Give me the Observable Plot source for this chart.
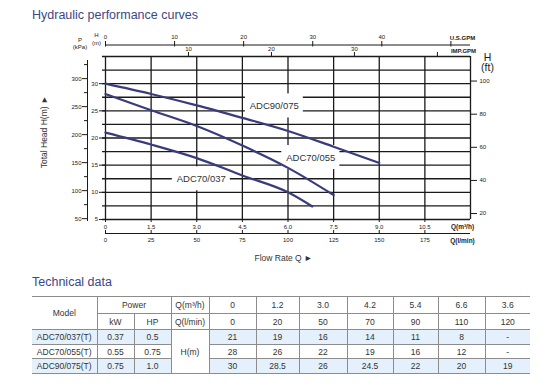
<!DOCTYPE html>
<html>
<head>
<meta charset="utf-8">
<script src="https://cdn.jsdelivr.net/npm/d3@7"></script>
<script src="https://cdn.jsdelivr.net/npm/@observablehq/plot@0.6"></script>
<style>
  html, body { margin: 0; padding: 0; background: #fff; }
  #page { position: relative; width: 550px; height: 392px; overflow: hidden; font-family: "Liberation Sans", Arial, sans-serif; }
  .heading { position: absolute; left: 32px; font-size: 12.5px; line-height: 15px; color: #3a4886; white-space: nowrap; }
  #chart { position: absolute; left: 0; top: 0; }
  #tech { position: absolute; left: 32px; top: 296px; border-collapse: collapse; table-layout: fixed; width: 498px; font-size: 8.5px; color: #333; }
  #tech td { border: 1px solid #8c8c8c; text-align: center; padding: 0; white-space: nowrap; }
  #tech tr td:first-child { border-left: none; }
  #tech tr td:last-child { border-right: none; }
  #tech tr.r2 td:first-child { border-left: 1px solid #8c8c8c; }
  #tech tr.blue td { background: #e4f0fb; }
  #tech tr.blue td.hm { background: #fff; }
</style>
</head>
<body>
<div id="page">
  <div class="heading" style="top:8px">Hydraulic performance curves</div>
  <div id="chart"></div>
  <div class="heading" style="top:275px">Technical data</div>
  <table id="tech"></table>
</div>
<script>
// ---------- curve data ----------
const q037 = [0, 1.5, 3.0, 4.5, 6.0, 6.8];
const h037 = [21.0, 18.8, 16.3, 13.1, 10.0, 7.4];
const q055 = [0, 1.5, 3.0, 4.5, 6.0, 7.5];
const h055 = [28.1, 25.1, 22.2, 18.6, 14.5, 9.5];
const q075 = [0, 1.5, 3.0, 4.5, 6.0, 7.5, 9.0];
const h075 = [30.0, 28.1, 26.0, 23.7, 21.3, 18.4, 15.4];

const labelNames = ["ADC90/075", "ADC70/055", "ADC70/037"];
const labelQ = [5.55, 6.75, 3.15];
const labelH = [25.9, 16.4, 12.5];

// ---------- axes / ticks ----------
const qGrid = [0, 1.5, 3.0, 4.5, 6.0, 7.5, 9.0, 10.5, 12];
const hGrid = [5, 7.5, 10, 12.5, 15, 17.5, 20, 22.5, 25, 27.5, 30, 32.5, 35];
const qM3hTicks = [0, 1.5, 3.0, 4.5, 6.0, 7.5, 9.0, 10.5];
const qM3hLabels = ["0", "1.5", "3.0", "4.5", "6.0", "7.5", "9.0", "10.5"];
const qLminTicks = [0, 25, 50, 75, 100, 125, 150, 175];
const usGpmTicks = [0, 10, 20, 30, 40, 50];
const usGpmLabels = [0, 10, 20, 30, 40];
const impGpmTicks = [10, 20, 30, 40];
const impGpmLabels = [10, 20, 30];
const hTicks = [5, 10, 15, 20, 25, 30];
const kPaMajor = [50, 100, 150, 200, 250, 300];
const kPaMinor = [75, 125, 175, 225, 275, 325];
const ftTicks = [20, 40, 60, 80, 100];

// ---------- table data ----------
const models = ["ADC70/037(T)", "ADC70/055(T)", "ADC90/075(T)"];
const kW = ["0.37", "0.55", "0.75"];
const hp = ["0.5", "0.75", "1.0"];
const tableQm3h = ["0", "1.2", "3.0", "4.2", "5.4", "6.6", "3.6"];
const tableQlmin = ["0", "20", "50", "70", "90", "110", "120"];
const tableH037 = ["21", "19", "16", "14", "11", "8", "-"];
const tableH055 = ["28", "26", "22", "19", "16", "12", "-"];
const tableH075 = ["30", "28.5", "26", "24.5", "22", "20", "19"];

// unit conversions
const M3H_PER_USGPM = 0.2271, M3H_PER_IMPGPM = 0.2728, M3H_PER_LMIN = 0.06;
const KPA_PER_M = 9.7, M_PER_FT = 0.3048;

// ---------- layout ----------
const W = 550, HH = 265, mL = 105, mR = 80, mT = 56, mB = 46;
const xDom = [0, 12], yDom = [5, 35];
const ux = (xDom[1] - xDom[0]) / (W - mL - mR);
const uy = (yDom[1] - yDom[0]) / (HH - mT - mB);
const pxX = px => xDom[0] + (px - mL) * ux;
const pxY = py => yDom[0] + (HH - mB - py) * uy;

const curveRows = [
  ...q037.map((q, i) => ({model: "ADC70/037", q, h: h037[i]})),
  ...q055.map((q, i) => ({model: "ADC70/055", q, h: h055[i]})),
  ...q075.map((q, i) => ({model: "ADC90/075", q, h: h075[i]}))
];
const labelRows = labelNames.map((name, i) => ({name, q: labelQ[i], h: labelH[i]}));

const ink = "#1a1a1a", txt = "#333";
const gw = 1.3;
const fs = 6;

const chart = Plot.plot({
  width: W, height: HH,
  marginLeft: mL, marginRight: mR, marginTop: mT, marginBottom: mB,
  x: {domain: xDom, axis: null},
  y: {domain: yDom, axis: null},
  style: {fontFamily: "'Liberation Sans', Arial, sans-serif", background: "transparent", overflow: "visible", color: txt},
  marks: [
    // grid
    Plot.ruleX(qGrid, {y1: yDom[0], y2: yDom[1], stroke: ink, strokeWidth: gw}),
    Plot.ruleY(hGrid, {x1: pxX(102), x2: xDom[1], stroke: ink, strokeWidth: gw}),
    // label boxes
    Plot.rect(labelRows, {x1: d => d.q - 29 * ux, x2: d => d.q + 29 * ux, y1: d => d.h - 12 * uy, y2: d => d.h + 12 * uy, fill: "white"}),
    // curves
    Plot.line(curveRows, {x: "q", y: "h", z: "model", stroke: "#383c7c", strokeWidth: 2.2, curve: "monotone-x"}),
    Plot.text(labelRows, {x: "q", y: "h", text: "name", fontSize: 9.5, fill: txt}),

    // left H(m) axis
    Plot.ruleY(hTicks, {x1: pxX(99), x2: 0, stroke: ink, strokeWidth: 1}),
    Plot.text(hTicks, {x: pxX(97.5), y: d => d, text: d => String(d), textAnchor: "end", fontSize: fs, fill: ink}),
    Plot.text(["H\n(m)"], {x: pxX(96), y: pxY(38), text: d => d, fontSize: fs, fill: ink, lineHeight: 1.25}),

    // kPa axis
    Plot.ruleX([pxX(87)], {y1: pxY(221), y2: pxY(60), stroke: ink, strokeWidth: 1}),
    Plot.ruleY(kPaMajor, {y: p => p / KPA_PER_M, x1: pxX(82), x2: pxX(87), stroke: ink, strokeWidth: 1}),
    Plot.ruleY(kPaMinor, {y: p => p / KPA_PER_M, x1: pxX(84), x2: pxX(87), stroke: ink, strokeWidth: 1}),
    Plot.text(kPaMajor, {y: p => p / KPA_PER_M, x: pxX(81), text: d => String(d), textAnchor: "end", fontSize: fs, fill: ink}),
    Plot.text(["P\n(kPa)"], {x: pxX(79.5), y: pxY(42.5), text: d => d, fontSize: fs, fill: ink, lineHeight: 1.3}),

    // right ft axis
    Plot.ruleY(ftTicks, {y: f => f * M_PER_FT, x1: xDom[1], x2: pxX(477), stroke: ink, strokeWidth: 1}),
    Plot.text(ftTicks, {y: f => f * M_PER_FT, x: pxX(479), text: d => String(d), textAnchor: "start", fontSize: fs, fill: ink}),
    Plot.text(["H\n(ft)"], {x: pxX(487), y: pxY(62), text: d => d, fontSize: 10.5, fill: ink, lineHeight: 1.0}),

    // top U.S. GPM axis
    Plot.ruleY([pxY(44.5)], {x1: xDom[0], x2: xDom[1], stroke: ink, strokeWidth: 1.2}),
    Plot.ruleX(usGpmTicks, {x: g => g * M3H_PER_USGPM, y1: pxY(41), y2: pxY(46.5), stroke: ink, strokeWidth: 1}),
    Plot.text(usGpmLabels, {x: g => g * M3H_PER_USGPM, y: pxY(36.5), text: d => String(d), fontSize: fs, fill: ink}),
    Plot.text(["U.S.GPM"], {x: pxX(462), y: pxY(37.5), text: d => d, fontSize: fs, fontWeight: "bold", fill: ink}),

    // IMP GPM axis (top of frame)
    Plot.ruleX(impGpmTicks, {x: g => g * M3H_PER_IMPGPM, y1: yDom[1], y2: pxY(52), stroke: ink, strokeWidth: 1}),
    Plot.text(impGpmLabels, {x: g => g * M3H_PER_IMPGPM, y: pxY(49), text: d => String(d), fontSize: fs, fill: ink}),
    Plot.text(["IMP.GPM"], {x: pxX(463), y: pxY(50.5), text: d => d, fontSize: fs, fontWeight: "bold", fill: ink}),

    // bottom m3/h axis
    Plot.ruleX(qM3hTicks, {y1: yDom[0], y2: pxY(222), stroke: ink, strokeWidth: 1}),
    Plot.text(qM3hTicks, {x: d => d, y: pxY(226.5), text: (d, i) => qM3hLabels[i], fontSize: fs, fill: ink}),
    Plot.text(["Q(m³/h)"], {x: pxX(462), y: pxY(226.5), text: d => d, fontSize: 6.5, fontWeight: "bold", fill: ink}),

    // l/min axis
    Plot.ruleY([pxY(233)], {x1: xDom[0], x2: xDom[1], stroke: ink, strokeWidth: 1.2}),
    Plot.ruleX(qLminTicks, {x: v => v * M3H_PER_LMIN, y1: pxY(233), y2: pxY(230), stroke: ink, strokeWidth: 1}),
    Plot.text(qLminTicks, {x: v => v * M3H_PER_LMIN, y: pxY(240), text: d => String(d), fontSize: fs, fill: ink}),
    Plot.text(["Q(l/min)"], {x: pxX(462), y: pxY(240), text: d => d, fontSize: 6.5, fontWeight: "bold", fill: ink}),

    // axis titles
    Plot.text(["Flow Rate Q ►"], {x: pxX(283), y: pxY(258), text: d => d, fontSize: 8.5, fill: txt}),
    Plot.text(["Total Head H(m) ►"], {x: pxX(44), y: pxY(131.5), text: d => d, rotate: -90, fontSize: 8.5, fill: txt})
  ]
});
document.getElementById("chart").appendChild(chart);

// ---------- table ----------
const colW = [65, 37, 37, 38, 47, 43, 48, 46, 45, 47, 45];
const rowH = [17, 16, 15, 14, 15];
const tb = document.getElementById("tech");
const cg = document.createElement("colgroup");
colW.forEach(w => { const c = document.createElement("col"); c.style.width = w + "px"; cg.appendChild(c); });
tb.appendChild(cg);
function row(cls, h, cells) {
  const tr = document.createElement("tr");
  if (cls) tr.className = cls;
  tr.style.height = h + "px";
  cells.forEach(c => {
    const td = document.createElement("td");
    td.textContent = c.t;
    if (c.rs) td.rowSpan = c.rs;
    if (c.cs) td.colSpan = c.cs;
    if (c.cls) td.className = c.cls;
    tr.appendChild(td);
  });
  tb.appendChild(tr);
}
row("", rowH[0], [{t: "Model", rs: 2}, {t: "Power", cs: 2}, {t: "Q(m³/h)"}, ...tableQm3h.map(t => ({t}))]);
row("r2", rowH[1], [{t: "kW"}, {t: "HP"}, {t: "Q(l/min)"}, ...tableQlmin.map(t => ({t}))]);
row("blue", rowH[2], [{t: models[0]}, {t: kW[0]}, {t: hp[0]}, {t: "H(m)", rs: 3, cls: "hm"}, ...tableH037.map(t => ({t}))]);
row("", rowH[3], [{t: models[1]}, {t: kW[1]}, {t: hp[1]}, ...tableH055.map(t => ({t}))]);
row("blue", rowH[4], [{t: models[2]}, {t: kW[2]}, {t: hp[2]}, ...tableH075.map(t => ({t}))]);
</script>
</body>
</html>
